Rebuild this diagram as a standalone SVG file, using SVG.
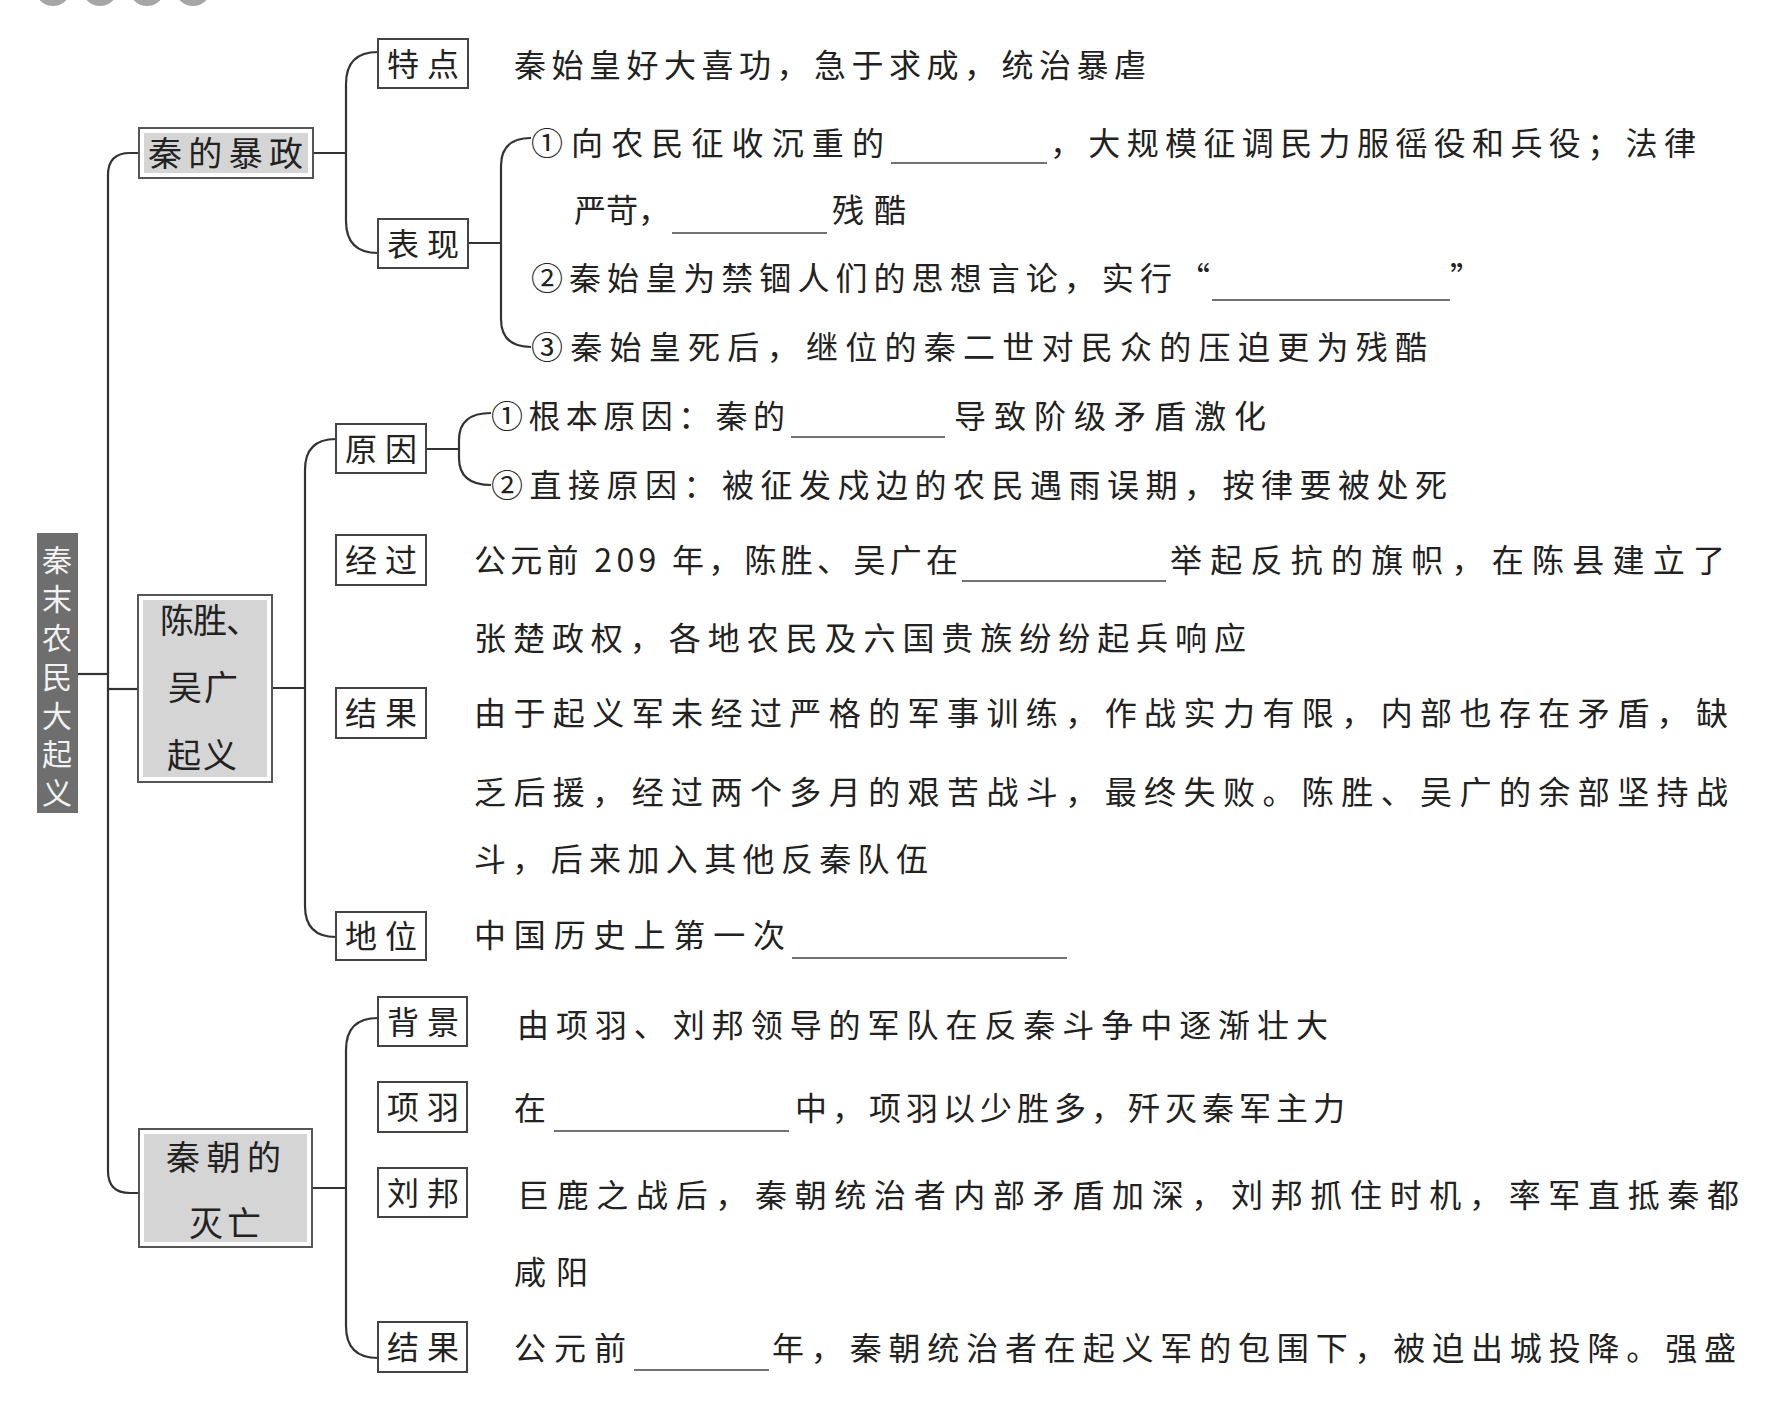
<svg xmlns="http://www.w3.org/2000/svg" width="1769" height="1408" viewBox="0 0 1769 1408">
<style>
text{font-family:"Noto Sans CJK SC","Noto Sans",sans-serif;fill:#222;}
.t{font-size:32px;}
.bl{font-size:32px;}
.ml{font-size:34px;}
.lab{font-size:30px;fill:#f2f2f2;writing-mode:vertical-rl;letter-spacing:8.8px;}
.sub{fill:#fff;stroke:#444;stroke-width:2;}
.mainO{fill:#fff;stroke:#555;stroke-width:2;}
.mainI{fill:#d5d5d5;}
.con{fill:none;stroke:#333;stroke-width:2.2;}
.ul{stroke:#444;stroke-width:1.6;}
</style>
<rect width="1769" height="1408" fill="#fff"/>
<g id="deco" fill="#a6a6a6">
<circle cx="53" cy="-12" r="18"/><circle cx="100" cy="-12" r="18"/><circle cx="147" cy="-12" r="18"/><circle cx="193" cy="-12" r="18"/>
</g>
<g id="connectors" class="con">
<path d="M139,153 H130 Q108,153 108,175 V1171 Q108,1193 130,1193 H139"/>
<path d="M78,674 H108"/>
<path d="M108,689 H138"/>
<path d="M313,153 H346"/>
<path d="M378,52 Q346,52 346,84 V221 Q346,253 378,253"/>
<path d="M468,243 H501"/>
<path d="M531,138 Q501,138 501,166 V319 Q501,347 531,347"/>
<path d="M272,688 H305"/>
<path d="M336,439 Q305,439 305,470 V906 Q305,937 336,937"/>
<path d="M426,449 H459"/>
<path d="M491,413 Q459,413 459,440 V458 Q459,485 491,485"/>
<path d="M312,1188 H346"/>
<path d="M378,1018 Q346,1018 346,1050 V1326 Q346,1358 378,1358"/>
</g>
<g id="root">
<rect x="37" y="533" width="41" height="280" fill="#6e6e6e"/>
<text class="lab" x="57" y="545">秦末农民大起义</text>
</g>
<g id="n-baozheng">
<rect class="mainO" x="139" y="128" width="174" height="50"/>
<rect class="mainI" x="144" y="133" width="164" height="40"/>
<text class="ml" x="148" y="166" textLength="155" lengthAdjust="spacing">秦的暴政</text>
</g>
<g id="n-tedian">
<rect class="sub" x="378" y="39" width="90" height="49"/>
<text class="bl" x="387" y="76" textLength="72" lengthAdjust="spacing">特点</text>
</g>
<g id="t-tedian">
<text class="t" x="514" y="77" textLength="632" lengthAdjust="spacing">秦始皇好大喜功，急于求成，统治暴虐</text>
</g>
<g id="n-biaoxian">
<rect class="sub" x="378" y="219" width="90" height="49"/>
<text class="bl" x="387" y="256" textLength="72" lengthAdjust="spacing">表现</text>
</g>
<g id="t-biaoxian">
<text class="t" x="531" y="155" textLength="353" lengthAdjust="spacing">①向农民征收沉重的</text>
<line class="ul" x1="891" y1="163" x2="1047" y2="163"/>
<text class="t" x="1050" y="155" textLength="646" lengthAdjust="spacing">，大规模征调民力服徭役和兵役；法律</text>
<text class="t" x="574" y="222" textLength="96" lengthAdjust="spacing">严苛，</text>
<line class="ul" x1="672" y1="233" x2="827" y2="233"/>
<text class="t" x="832" y="222" textLength="74" lengthAdjust="spacing">残酷</text>
<text class="t" x="531" y="290" textLength="679" lengthAdjust="spacing">②秦始皇为禁锢人们的思想言论，实行“</text>
<line class="ul" x1="1212" y1="300" x2="1450" y2="300"/>
<text class="t" x="1450" y="290">”</text>
<text class="t" x="531" y="359" textLength="896" lengthAdjust="spacing">③秦始皇死后，继位的秦二世对民众的压迫更为残酷</text>
</g>
<g id="n-chensheng">
<rect class="mainO" x="138" y="595" width="134" height="187"/>
<rect class="mainI" x="143" y="600" width="124" height="177"/>
<text class="ml" x="160" y="633" textLength="100" lengthAdjust="spacing">陈胜、</text>
<text class="ml" x="168" y="700" textLength="70" lengthAdjust="spacing">吴广</text>
<text class="ml" x="167" y="768" textLength="70" lengthAdjust="spacing">起义</text>
</g>
<g id="n-yuanyin">
<rect class="sub" x="336" y="424" width="90" height="49"/>
<text class="bl" x="345" y="461" textLength="72" lengthAdjust="spacing">原因</text>
</g>
<g id="t-yuanyin">
<text class="t" x="491" y="428" textLength="294" lengthAdjust="spacing">①根本原因：秦的</text>
<line class="ul" x1="791" y1="437" x2="945" y2="437"/>
<text class="t" x="954" y="428" textLength="312" lengthAdjust="spacing">导致阶级矛盾激化</text>
<text class="t" x="491" y="497" textLength="956" lengthAdjust="spacing">②直接原因：被征发戍边的农民遇雨误期，按律要被处死</text>
</g>
<g id="n-jingguo">
<rect class="sub" x="336" y="535" width="90" height="50"/>
<text class="bl" x="345" y="572" textLength="72" lengthAdjust="spacing">经过</text>
</g>
<g id="t-jingguo">
<text class="t" x="474" y="572" textLength="484" lengthAdjust="spacing">公元前 209 年，陈胜、吴广在</text>
<line class="ul" x1="962" y1="581" x2="1166" y2="581"/>
<text class="t" x="1170" y="572" textLength="555" lengthAdjust="spacing">举起反抗的旗帜，在陈县建立了</text>
<text class="t" x="474" y="650" textLength="772" lengthAdjust="spacing">张楚政权，各地农民及六国贵族纷纷起兵响应</text>
</g>
<g id="n-jieguo1">
<rect class="sub" x="336" y="688" width="90" height="50"/>
<text class="bl" x="345" y="725" textLength="72" lengthAdjust="spacing">结果</text>
</g>
<g id="t-jieguo1">
<text class="t" x="474" y="725" textLength="1254" lengthAdjust="spacing">由于起义军未经过严格的军事训练，作战实力有限，内部也存在矛盾，缺</text>
<text class="t" x="474" y="804" textLength="1254" lengthAdjust="spacing">乏后援，经过两个多月的艰苦战斗，最终失败。陈胜、吴广的余部坚持战</text>
<text class="t" x="474" y="871" textLength="454" lengthAdjust="spacing">斗，后来加入其他反秦队伍</text>
</g>
<g id="n-diwei">
<rect class="sub" x="336" y="912" width="90" height="48"/>
<text class="bl" x="345" y="948" textLength="72" lengthAdjust="spacing">地位</text>
</g>
<g id="t-diwei">
<text class="t" x="474" y="947" textLength="311" lengthAdjust="spacing">中国历史上第一次</text>
<line class="ul" x1="792" y1="958" x2="1067" y2="958"/>
</g>
<g id="n-miewang">
<rect class="mainO" x="139" y="1129" width="173" height="118"/>
<rect class="mainI" x="144" y="1134" width="163" height="108"/>
<text class="ml" x="166" y="1170" textLength="115" lengthAdjust="spacing">秦朝的</text>
<text class="ml" x="189" y="1236" textLength="72" lengthAdjust="spacing">灭亡</text>
</g>
<g id="n-beijing">
<rect class="sub" x="378" y="997" width="89" height="49"/>
<text class="bl" x="387" y="1034" textLength="72" lengthAdjust="spacing">背景</text>
</g>
<g id="t-beijing">
<text class="t" x="517" y="1037" textLength="811" lengthAdjust="spacing">由项羽、刘邦领导的军队在反秦斗争中逐渐壮大</text>
</g>
<g id="n-xiangyu">
<rect class="sub" x="378" y="1082" width="89" height="50"/>
<text class="bl" x="387" y="1119" textLength="72" lengthAdjust="spacing">项羽</text>
</g>
<g id="t-xiangyu">
<text class="t" x="514" y="1120">在</text>
<line class="ul" x1="554" y1="1131" x2="789" y2="1131"/>
<text class="t" x="795" y="1120" textLength="550" lengthAdjust="spacing">中，项羽以少胜多，歼灭秦军主力</text>
</g>
<g id="n-liubang">
<rect class="sub" x="378" y="1168" width="89" height="49"/>
<text class="bl" x="387" y="1205" textLength="72" lengthAdjust="spacing">刘邦</text>
</g>
<g id="t-liubang">
<text class="t" x="517" y="1207" textLength="1222" lengthAdjust="spacing">巨鹿之战后，秦朝统治者内部矛盾加深，刘邦抓住时机，率军直抵秦都</text>
<text class="t" x="514" y="1284" textLength="74" lengthAdjust="spacing">咸阳</text>
</g>
<g id="n-jieguo2">
<rect class="sub" x="378" y="1322" width="89" height="50"/>
<text class="bl" x="387" y="1359" textLength="72" lengthAdjust="spacing">结果</text>
</g>
<g id="t-jieguo2">
<text class="t" x="514" y="1360" textLength="112" lengthAdjust="spacing">公元前</text>
<line class="ul" x1="634" y1="1370" x2="769" y2="1370"/>
<text class="t" x="772" y="1360" textLength="964" lengthAdjust="spacing">年，秦朝统治者在起义军的包围下，被迫出城投降。强盛</text>
</g>
</svg>
